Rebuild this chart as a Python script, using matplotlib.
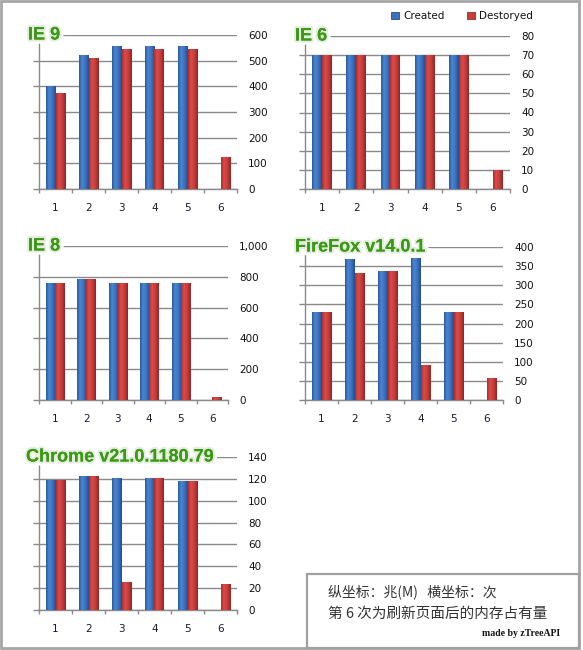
import numpy as np
import matplotlib
matplotlib.use('Agg')
import matplotlib.pyplot as plt
from matplotlib.colors import LinearSegmentedColormap
from matplotlib.patches import Rectangle, Patch
import matplotlib.patheffects as pe
from matplotlib.ticker import FuncFormatter, MultipleLocator, FixedLocator

plt.rcParams['font.family'] = ['DejaVu Sans']

runs = ['1', '2', '3', '4', '5', '6']
ie9_created = [400, 523, 558, 558, 558, 0]
ie9_destroyed = [375, 510, 546, 546, 546, 126]
ie6_created = [70, 70, 70, 70, 70, 0]
ie6_destroyed = [70, 70, 70, 70, 70, 10]
ie8_created = [762, 787, 762, 762, 762, 0]
ie8_destroyed = [762, 787, 762, 762, 762, 17]
ff_created = [230, 368, 336, 371, 230, 0]
ff_destroyed = [230, 332, 336, 92, 230, 58]
chrome_created = [119, 123, 120.5, 120.5, 118, 0]
chrome_destroyed = [119, 123, 26, 120.5, 118, 24]

titles = ['IE 9', 'IE 6', 'IE 8', 'FireFox v14.0.1', 'Chrome v21.0.1180.79']
series_names = ['Created', 'Destoryed']

W, H = 583, 650
fig = plt.figure(figsize=(W / 100, H / 100), dpi=100)
fig.patch.set_facecolor('white')

def frect(x0, x1, ytop, ybot):
    return [x0 / W, 1 - ybot / H, (x1 - x0) / W, (ybot - ytop) / H]

panels = [
    (titles[0], ie9_created, ie9_destroyed, 600, 100, frect(39, 237, 35, 189), 28),
    (titles[1], ie6_created, ie6_destroyed, 80, 10, frect(305, 510, 36, 189), 295),
    (titles[2], ie8_created, ie8_destroyed, 1000, 200, frect(39, 228, 246, 400), 28),
    (titles[3], ff_created, ff_destroyed, 400, 50, frect(305, 503, 247, 400), 295),
    (titles[4], chrome_created, chrome_destroyed, 140, 20, frect(39, 237, 457, 610), 26),
]

blue_cm = LinearSegmentedColormap.from_list('b', [(0, '#2b5a9c'), (0.3, '#4a86d2'), (0.65, '#3c72c0'), (1, '#244d8c')])
red_cm = LinearSegmentedColormap.from_list('r', [(0, '#a8302f'), (0.3, '#dc4b49'), (0.65, '#c73d3b'), (1, '#8c2626')])
grad = np.linspace(0, 1, 64)[np.newaxis, :]

grid_c = '#8a8a8a'
green = '#3a9a12'

def shade(ax, bars, cmap):
    for b in bars:
        x, y = b.get_x(), b.get_y()
        w, h = b.get_width(), b.get_height()
        if h <= 0:
            continue
        im = ax.imshow(grad, extent=[x, x + w, y, y + h], aspect='auto', cmap=cmap,
                       zorder=b.get_zorder() + 0.1, interpolation='bilinear')
        im.set_clip_path(b)

x = np.arange(1, len(runs) + 1)
bw = 0.29
for title, cre, des, ymax, step, rect, tx in panels:
    ax = fig.add_axes(rect)
    b1 = ax.bar(x - bw / 2, cre, bw, color='#3c72c0', zorder=3, linewidth=0)
    b2 = ax.bar(x + bw / 2, des, bw, color='#c73d3b', zorder=3, linewidth=0)
    shade(ax, b1, blue_cm)
    shade(ax, b2, red_cm)
    ax.set_xlim(0.5, len(runs) + 0.5)
    ax.set_ylim(0, ymax)
    ax.yaxis.set_major_locator(MultipleLocator(step))
    ax.yaxis.set_major_formatter(FuncFormatter(lambda v, p: f'{int(round(v)):,}'))
    ax.grid(axis='y', color=grid_c, linewidth=1, zorder=1)
    ax.set_axisbelow(True)
    for s in ['top', 'right']:
        ax.spines[s].set_visible(False)
    for s in ['left', 'bottom']:
        ax.spines[s].set_color(grid_c)
        ax.spines[s].set_linewidth(1)
    ax.tick_params(axis='y', which='major', left=True, right=False, labelleft=False,
                   labelright=True, length=4, width=1, color=grid_c, pad=4,
                   labelsize=7.5, labelcolor='#111111')
    ax.xaxis.set_major_locator(FixedLocator(np.arange(0.5, len(runs) + 1, 1)))
    ax.xaxis.set_major_formatter(FuncFormatter(lambda v, p: ''))
    ax.xaxis.set_minor_locator(FixedLocator(x))
    ax.set_xticklabels(runs, minor=True)
    ax.tick_params(axis='x', which='major', length=3, width=1, color=grid_c)
    ax.tick_params(axis='x', which='minor', length=0, pad=10, labelsize=7.5, labelcolor='#1a1a33')
    ax_l = rect[0] * W
    ax_w = rect[2] * W
    ax.text((tx - ax_l) / ax_w, 1.0, title, transform=ax.transAxes, ha='left', va='center',
            fontsize=13, fontweight='bold', color=green, family='Liberation Sans',
            zorder=10, clip_on=False,
            path_effects=[pe.withStroke(linewidth=6, foreground='#ffffff'),
                          pe.withStroke(linewidth=3, foreground='#e6ece2'),
                          pe.Normal()])

# legend
handles = [Patch(facecolor='#3c72c0', edgecolor='#244d8c', linewidth=0.6),
           Patch(facecolor='#c73d3b', edgecolor='#8c2626', linewidth=0.6)]
fig.legend(handles, series_names, loc='center', bbox_to_anchor=(462 / W, 1 - 16 / H),
           ncol=2, frameon=False, fontsize=7.5, handlelength=0.7, handleheight=0.7,
           handletextpad=0.4, columnspacing=2.2, labelcolor='#111111')

# outer border
fig.patches.append(Rectangle((1 / W, 1 - 648 / H), 578 / W, 647 / H, transform=fig.transFigure,
                             fill=False, edgecolor='#a6a6a6', linewidth=2))
# note box
fig.patches.append(Rectangle((307 / W, 1 - 648 / H), 272 / W, 74 / H, transform=fig.transFigure,
                             fill=False, edgecolor='#a0a0a0', linewidth=1.6))

note_font = ['Noto Sans CJK SC', 'DejaVu Sans']
fig.text(328 / W, 1 - 592 / H, '纵坐标：兆(M)   横坐标：次', fontsize=10, color='#333333',
         family=note_font, ha='left', va='center')
fig.text(328 / W, 1 - 614 / H, '第 6 次为刷新页面后的内存占有量', fontsize=10.5, color='#333333',
         family=note_font, ha='left', va='center')
fig.text(560 / W, 1 - 634 / H, 'made by zTreeAPI', fontsize=7, fontweight='bold', color='#111111',
         family='Liberation Serif', ha='right', va='center')

fig.savefig('out.png', dpi=100, facecolor='white')
